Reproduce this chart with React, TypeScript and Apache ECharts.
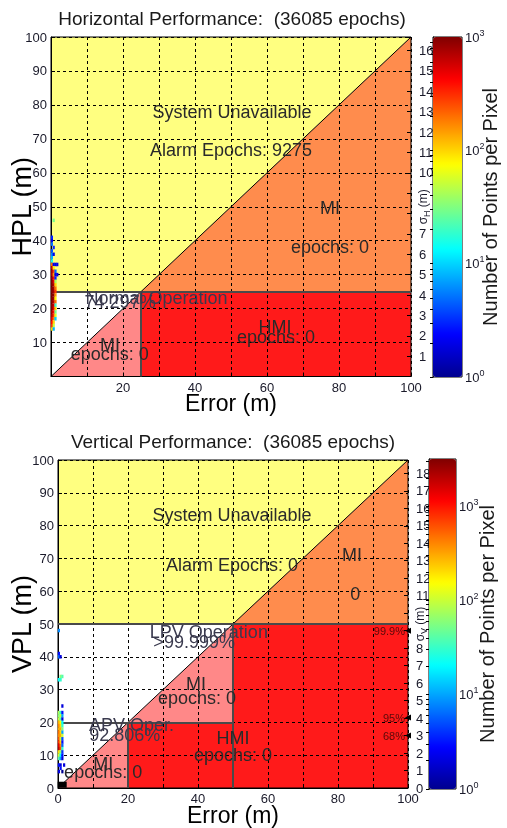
import React, { useEffect, useRef } from "react";
import * as echarts from "echarts";

// ---------- data ----------
const titles = ["Horizontal Performance:  (36085 epochs)", "Vertical Performance:  (36085 epochs)"];
const errorBins = [0.25, 0.75, 1.25, 1.75];

// [protection level, counts per error bin]
const hplDensity = [
  [46, 0, 30, 0, 0], [41, 3, 0, 0, 0], [40, 2, 0, 0, 0], [39, 5, 0, 0, 0], [38, 0, 3, 0, 0],
  [37, 4, 0, 0, 0], [36, 6, 2, 0, 0], [35, 8, 0, 0, 0], [34, 15, 0, 0, 0], [33, 200, 2, 2, 2],
  [32, 600, 80, 0, 0], [31, 800, 300, 5, 0], [30, 700, 150, 2, 2], [29, 900, 400, 3, 0],
  [28, 1000, 500, 40, 0], [27, 1000, 700, 100, 0], [26, 1000, 800, 200, 0], [25, 1000, 800, 300, 0],
  [24, 1000, 900, 150, 0], [23, 1000, 800, 80, 0], [22, 1000, 700, 200, 0], [21, 900, 600, 20, 0],
  [20, 1000, 500, 100, 0], [19, 800, 400, 30, 0], [18, 700, 300, 60, 0], [17, 500, 200, 10, 0],
  [16, 400, 100, 0, 0], [15, 300, 50, 0, 0], [14, 100, 8, 0, 0],
];
const vplDensity = [
  [48, 8, 0, 0, 0], [41, 3, 0, 0, 0], [40, 6, 2, 0, 0], [34, 0, 60, 40, 0], [33, 20, 30, 0, 0],
  [25, 0, 0, 2, 0], [23, 80, 30, 3, 0], [22, 60, 100, 10, 0], [21, 100, 40, 2, 0],
  [20, 300, 150, 20, 0], [19, 400, 200, 30, 0], [18, 300, 300, 60, 0], [17, 500, 200, 10, 0],
  [16, 400, 300, 100, 0], [15, 600, 100, 5, 0], [14, 800, 200, 3, 0], [13, 1500, 400, 6, 0],
  [12, 2000, 600, 30, 0], [11, 200, 60, 4, 0], [10, 100, 20, 3, 0], [9, 40, 10, 2, 0],
  [7, 3, 2, 0, 2], [6, 0, 3, 0, 0], [5, 2, 0, 1, 0],
];
const originMarker = [[1.2, 1]];

const horizRegions = [
  [[0, 25], [25, 25], [100, 100], [0, 100]],
  [[25, 25], [100, 25], [100, 100]],
  [[25, 0], [100, 0], [100, 25], [25, 25]],
  [[0, 0], [25, 0], [25, 25]],
  [[0, 0], [25, 25], [0, 25]],
];
const vertRegions = [
  [[0, 50], [50, 50], [100, 100], [0, 100]],
  [[50, 50], [100, 50], [100, 100]],
  [[50, 0], [100, 0], [100, 50], [50, 50]],
  [[20, 0], [50, 0], [50, 20], [20, 20]],
  [[0, 0], [20, 0], [20, 20], [50, 20], [50, 50]],
  [[0, 0], [50, 50], [0, 50]],
];
const horizLimitLines = [[[0, 25], [100, 25]], [[25, 0], [25, 25]]];
const vertLimitLines = [[[0, 50], [100, 50]], [[50, 0], [50, 50]], [[0, 20], [50, 20]], [[20, 0], [20, 20]]];
const diagonal = [[[0, 0], [100, 100]]];

const horizTexts = [
  ["System Unavailable", 50.3, 77.9], ["Alarm Epochs: 9275", 50, 66.7],
  ["MI", 77.5, 49.6], ["epochs: 0", 77.5, 38.1],
  ["HMI", 62.2, 14.6], ["epochs: 0", 62.5, 11.6],
  ["MI", 16.4, 9.3], ["epochs: 0", 16.3, 6.5],
];
const horizOpTexts = [["Normal Operation", 29.3, 23.2], ["74.297%", 19.2, 22]];
const vertTexts = [
  ["System Unavailable", 49.7, 83.2], ["Alarm Epochs: 0", 49.7, 68],
  ["MI", 84, 71], ["0", 84.9, 59.1],
  ["MI", 39.4, 31.8], ["epochs: 0", 39.7, 27.5],
  ["HMI", 50, 15.3], ["epochs: 0", 50, 10.2],
  ["MI", 12.9, 7.4], ["epochs: 0", 12.9, 4.8],
];
const vertOpTexts = [["LPV Operation", 43.1, 47.6], [">99.999%", 38.9, 44.5], ["APV Oper.", 21, 19.1], ["92.806%", 19.1, 16.3]];
const sigmaMarkers = [[100, 9.0, "99.9%"], [100, 4.03, "95%"], [100, 3.0, "68%"]];

const hplToSigma = 6.0;
const vplToSigma = 5.33;
const colorbarMaxTop = 3;
const colorbarMaxBottom = 3.5;
const hiddenSigmaTop = [0, 8, 9];
const hiddenSigmaBottom = [9, 10];

// ---------- styles ----------
const FONT = "Liberation Sans, Arial, Helvetica, sans-serif";
const JET = ["#00008f", "#0000ff", "#0080ff", "#00ffff", "#80ff80", "#ffff00", "#ff8000", "#ff0000", "#800000"];
const YELLOW = "#ffff80", ORANGE = "#ff8c4d", RED = "#ff1a1a", PINK = "#ff8888", WHITE = "#ffffff";
const horizColors = [YELLOW, ORANGE, RED, PINK, WHITE];
const vertColors = [YELLOW, ORANGE, RED, RED, PINK, WHITE];

function densityData(rows: number[][]) {
  const out: number[][] = [];
  rows.forEach(([pl, ...counts]) =>
    counts.forEach((c, j) => {
      if (c > 0) out.push([errorBins[j], pl, c, Math.log10(c)]);
    })
  );
  return out;
}

function regionSeries(regions: number[][][], colors: string[], xi: number, yi: number) {
  return {
    type: "custom",
    xAxisIndex: xi,
    yAxisIndex: yi,
    z: 1,
    silent: true,
    data: regions.map((_, i) => [i]),
    renderItem: (params: any, api: any) => ({
      type: "polygon",
      shape: { points: regions[params.dataIndex].map((p) => api.coord(p)) },
      style: { fill: colors[params.dataIndex], stroke: null },
    }),
  };
}

function linesSeries(segs: number[][][], xi: number, yi: number, color: string, width: number) {
  return {
    type: "lines",
    coordinateSystem: "cartesian2d",
    xAxisIndex: xi,
    yAxisIndex: yi,
    z: 4,
    silent: true,
    polyline: false,
    lineStyle: { color, width, opacity: 1 },
    data: segs.map((s) => ({ coords: s })),
  };
}

function textSeries(items: (string | number)[][], xi: number, yi: number, color: string) {
  return {
    type: "scatter",
    xAxisIndex: xi,
    yAxisIndex: yi,
    z: 7,
    silent: true,
    symbolSize: 1,
    itemStyle: { color: "rgba(0,0,0,0)", opacity: 1 },
    data: items.map(([t, x, y]) => ({ name: t, value: [x, y] })),
    label: {
      show: true,
      position: "inside",
      formatter: "{b}",
      fontFamily: FONT,
      fontSize: 18,
      color,
      opacity: 1,
    },
  };
}

function densitySeries(rows: number[][], xi: number, yi: number) {
  return {
    type: "scatter",
    xAxisIndex: xi,
    yAxisIndex: yi,
    z: 6,
    silent: true,
    symbol: "rect",
    symbolSize: [2.2, 3.5],
    itemStyle: { opacity: 1 },
    data: densityData(rows),
  };
}

const tickLabel = { fontFamily: FONT, fontSize: 13, color: "#1a1a2a", margin: 4 };
const dashed = { show: true, lineStyle: { color: "#000", type: [3, 3], width: 1 } };

function errorAxis(gridIndex: number, showZero: boolean) {
  return {
    type: "value",
    gridIndex,
    min: 0,
    max: 100,
    interval: 10,
    z: 3,
    name: "Error (m)",
    nameLocation: "middle",
    nameGap: 15,
    nameMoveOverlap: false,
    nameTextStyle: { fontFamily: FONT, fontSize: 23, color: "#000" },
    axisLine: { show: true, lineStyle: { color: "#000", width: 1 } },
    axisTick: { show: true, inside: true, length: 4, lineStyle: { color: "#000" } },
    axisLabel: {
      ...tickLabel,
      formatter: (v: number) => (v % 20 === 0 && (showZero || v > 0) ? String(v) : ""),
    },
    splitLine: dashed,
  };
}

function plAxis(gridIndex: number, name: string, showZero: boolean, gap: number) {
  return {
    type: "value",
    gridIndex,
    position: "left",
    min: 0,
    max: 100,
    interval: 10,
    z: 3,
    name,
    nameLocation: "middle",
    nameGap: gap,
    nameRotate: 90,
    nameMoveOverlap: false,
    nameTextStyle: { fontFamily: FONT, fontSize: 27, color: "#000" },
    axisLine: { show: true, lineStyle: { color: "#000", width: 1 } },
    axisTick: { show: true, inside: true, length: 4, lineStyle: { color: "#000" } },
    axisLabel: { ...tickLabel, formatter: (v: number) => (showZero || v > 0 ? String(v) : "") },
    splitLine: dashed,
  };
}

function sigmaAxis(gridIndex: number, ratio: number, sub: string, hidden: number[]) {
  return {
    type: "value",
    gridIndex,
    position: "right",
    min: 0,
    max: 100 / ratio,
    interval: 1,
    z: 3,
    name: `{s|σ}{sub|${sub}} {s|(m)}`,
    nameLocation: "middle",
    nameGap: 3,
    nameRotate: 90,
    nameMoveOverlap: false,
    nameTextStyle: {
      fontFamily: FONT,
      color: "#1a1a2a",
      rich: {
        s: { fontFamily: FONT, fontSize: 12, color: "#1a1a2a" },
        sub: { fontFamily: FONT, fontSize: 9, color: "#1a1a2a", padding: [8, 0, 0, 0] },
      },
    },
    axisLine: { show: false },
    axisTick: { show: true, inside: true, length: 4, lineStyle: { color: "#000" } },
    axisLabel: {
      ...tickLabel,
      margin: 8,
      formatter: (v: number) =>
        Math.abs(v - Math.round(v)) < 1e-6 && !hidden.includes(Math.round(v)) ? String(Math.round(v)) : "",
    },
    splitLine: { show: false },
  };
}

function colorbarAxis(gridIndex: number, max: number, nameGap: number) {
  const minor: number[] = [];
  for (let d = 0; d < Math.ceil(max); d++) for (let k = 1; k < 10; k++) {
    const v = d + Math.log10(k);
    if (v <= max) minor.push(v);
  }
  const majors = [0, 1, 2, 3].filter((v) => v <= max);
  return {
    type: "value",
    gridIndex,
    position: "right",
    min: 0,
    max,
    z: 3,
    name: "Number of Points per Pixel",
    nameLocation: "middle",
    nameGap,
    nameRotate: 90,
    nameMoveOverlap: false,
    nameTextStyle: { fontFamily: FONT, fontSize: 20, color: "#1a1a1a" },
    axisLine: { show: true, lineStyle: { color: "#000" } },
    axisTick: { show: true, inside: true, length: 3, customValues: minor, lineStyle: { color: "#000" } },
    axisLabel: {
      customValues: majors,
      margin: 3,
      formatter: (v: number) => `{b|10}{p|${Math.round(v)}}`,
      rich: {
        b: { fontFamily: FONT, fontSize: 13, color: "#1a1a2a" },
        p: { fontFamily: FONT, fontSize: 9, color: "#1a1a2a", padding: [0, 0, 9, 0] },
      },
    },
    splitLine: { show: false },
  };
}

const hiddenX = (gridIndex: number) => ({ type: "value", gridIndex, min: 0, max: 1, show: false });

export default function App() {
  const ref = useRef<HTMLDivElement>(null);
  useEffect(() => {
    document.body.style.margin = "0";
    const chart = echarts.init(ref.current!, null, { renderer: "svg" });
    const gridBox = {
      show: true, borderColor: "#000", borderWidth: 1, backgroundColor: "transparent", z: 4,
      containLabel: false, outerBoundsMode: "none",
    };
    const option: any = {
      animation: false,
      grid: [
        { left: 51, top: 37, width: 360, height: 339.5, ...gridBox },
        { left: 58, top: 460, width: 350, height: 328, ...gridBox },
        { left: 433, top: 37, width: 29, height: 340, ...gridBox },
        { left: 429, top: 459, width: 27, height: 330, ...gridBox },
      ],
      xAxis: [errorAxis(0, false), errorAxis(1, true), hiddenX(2), hiddenX(3)],
      yAxis: [
        plAxis(0, "HPL (m)", false, 16),
        sigmaAxis(0, hplToSigma, "H", hiddenSigmaTop),
        plAxis(1, "VPL (m)", true, 23),
        sigmaAxis(1, vplToSigma, "V", hiddenSigmaBottom),
        colorbarAxis(2, colorbarMaxTop, 18),
        colorbarAxis(3, colorbarMaxBottom, 21),
      ],
      visualMap: [
        {
          type: "continuous", seriesIndex: 4, dimension: 3, min: 0, max: colorbarMaxTop,
          inRange: { color: JET }, left: 433, top: 37, itemWidth: 29, itemHeight: 340,
          calculable: false, hoverLink: false, padding: 0, text: null, orient: "vertical",
        },
        {
          type: "continuous", seriesIndex: 11, dimension: 3, min: 0, max: colorbarMaxBottom,
          inRange: { color: JET }, left: 429, top: 459, itemWidth: 27, itemHeight: 330,
          calculable: false, hoverLink: false, padding: 0, text: null, orient: "vertical",
        },
      ],
      graphic: [
        { type: "text", x: 232, y: 18, style: { text: titles[0], font: `19px ${FONT}`, fill: "#1a1a1a", textAlign: "center", textVerticalAlign: "middle" } },
        { type: "text", x: 233, y: 441, style: { text: titles[1], font: `19px ${FONT}`, fill: "#1a1a1a", textAlign: "center", textVerticalAlign: "middle" } },
      ],
      series: [
        // top panel: 0..6
        regionSeries(horizRegions, horizColors, 0, 0),
        linesSeries(diagonal, 0, 0, "#000", 1),
        linesSeries(horizLimitLines, 0, 0, "#4a4a4a", 2),
        textSeries(horizOpTexts, 0, 0, "#3a3a4e"),
        densitySeries(hplDensity, 0, 0),
        textSeries(horizTexts, 0, 0, "#2a2a2a"),
        { type: "scatter", xAxisIndex: 0, yAxisIndex: 0, data: [], silent: true },
        // bottom panel: 7..
        regionSeries(vertRegions, vertColors, 1, 2),
        linesSeries(diagonal, 1, 2, "#000", 1),
        linesSeries(vertLimitLines, 1, 2, "#4a4a4a", 2),
        textSeries(vertOpTexts, 1, 2, "#3a3a4e"),
        densitySeries(vplDensity, 1, 2),
        textSeries(vertTexts, 1, 2, "#2a2a2a"),
        {
          type: "scatter", xAxisIndex: 1, yAxisIndex: 2, z: 6, silent: true,
          symbol: "rect", symbolSize: [9, 6], itemStyle: { color: "#000", opacity: 1 }, data: originMarker,
        },
        {
          type: "scatter", xAxisIndex: 1, yAxisIndex: 3, z: 7, silent: true,
          symbol: "triangle", symbolRotate: 90, symbolSize: 6, itemStyle: { color: "#000", opacity: 1 },
          data: sigmaMarkers.map(([x, y, t]) => ({ name: t, value: [x, y] })),
          label: { show: true, position: "left", distance: 0, formatter: "{b}", fontFamily: FONT, fontSize: 11, color: "#5a0a0a" },
        },
      ],
    };
    chart.setOption(option);
    return () => chart.dispose();
  }, []);
  return <div ref={ref} style={{ position: "fixed", left: 0, top: 0, width: 507, height: 828 }} />;
}
